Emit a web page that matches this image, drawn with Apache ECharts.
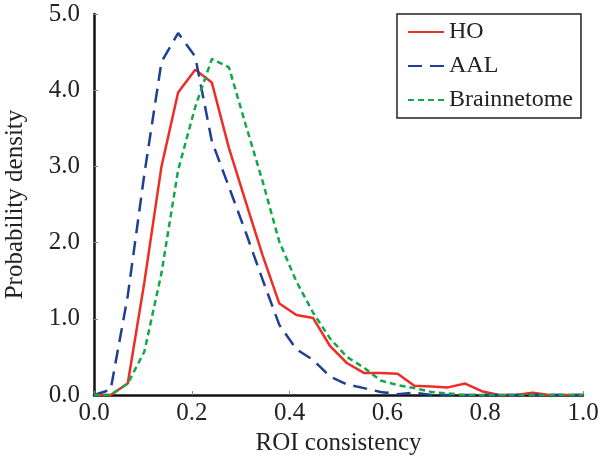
<!DOCTYPE html>
<html>
<head>
<meta charset="utf-8">
<script src="https://cdn.jsdelivr.net/npm/echarts@6/dist/echarts.min.js"></script>
<style>
  html, body { margin: 0; padding: 0; background: #fff; }
  #chart { width: 610px; height: 468px; }
</style>
</head>
<body>
<div id="chart"></div>
<script>
// bin positions on the ROI consistency axis
var xs = [0, 0.034, 0.069, 0.103, 0.138, 0.172, 0.207, 0.241, 0.276, 0.310,
          0.345, 0.379, 0.414, 0.448, 0.483, 0.517, 0.552, 0.586, 0.621, 0.655,
          0.690, 0.724, 0.759, 0.793, 0.828, 0.862, 0.897, 0.931, 0.966, 1.0];

var ho = [0, 0, 0.15, 1.48, 3.0, 3.97, 4.27, 4.1, 3.24, 2.54,
          1.83, 1.2, 1.05, 1.01, 0.64, 0.42, 0.29, 0.29, 0.28, 0.12,
          0.11, 0.1, 0.15, 0.05, 0, 0, 0.03, 0, 0, 0];

var aal = [0, 0.07, 1.3, 2.9, 4.37, 4.75, 4.44, 3.33, 2.73, 2.14,
           1.51, 0.92, 0.6, 0.46, 0.24, 0.14, 0.09, 0.04, 0.01, 0.03,
           0, 0, 0, 0, 0, 0, 0, 0, 0, 0];

var brain = [0, 0, 0.15, 0.57, 1.6, 2.95, 3.78, 4.41, 4.3, 3.55,
             2.8, 2.01, 1.49, 1.08, 0.74, 0.5, 0.36, 0.19, 0.13, 0.09,
             0.04, 0.02, 0, 0, 0, 0, 0, 0, 0, 0];

var font = '"Liberation Serif", "Times New Roman", serif';

function pairs(ys) {
    return xs.map(function (x, i) { return [x, ys[i]]; });
}

function line(name, ys, color, dash) {
    return {
        name: name,
        type: 'line',
        data: pairs(ys),
        symbol: 'none',
        animation: false,
        lineStyle: { color: color, width: 2.5, type: dash },
        itemStyle: { color: color }
    };
}

var chart = echarts.init(document.getElementById('chart'));
chart.setOption({
    backgroundColor: '#fff',
    textStyle: { fontFamily: font },
    grid: { left: 94, right: 27, top: 14, bottom: 73, outerBoundsMode: 'none' },
    legend: {
        orient: 'vertical',
        left: 397,
        top: 14,
        padding: [5, 8, 5, 10],
        itemGap: 8,
        itemWidth: 36,
        itemHeight: 14,
        borderColor: '#222',
        borderWidth: 1.5,
        itemStyle: { opacity: 0 },
        textStyle: { fontFamily: font, fontSize: 24, color: '#222', lineHeight: 26 },
        data: ['HO', 'AAL', 'Brainnetome']
    },
    xAxis: {
        type: 'value',
        min: 0,
        max: 1,
        interval: 0.2,
        name: 'ROI consistency',
        nameLocation: 'middle',
        nameGap: 30,
        nameTextStyle: { fontFamily: font, fontSize: 25, color: '#222' },
        axisLine: { lineStyle: { color: '#111', width: 2.5 } },
        axisTick: { inside: true, length: 4, lineStyle: { color: '#888', width: 1 } },
        axisLabel: {
            margin: 6, fontFamily: font, fontSize: 25, color: '#222',
            formatter: function (v) { return v.toFixed(1); }
        },
        splitLine: { show: false }
    },
    yAxis: {
        type: 'value',
        min: 0,
        max: 5,
        interval: 1,
        name: 'Probability density',
        nameLocation: 'middle',
        nameGap: 66,
        nameTextStyle: { fontFamily: font, fontSize: 25, color: '#222' },
        axisLine: { show: true, lineStyle: { color: '#111', width: 2.5 } },
        axisTick: { show: true, inside: true, length: 4, lineStyle: { color: '#888', width: 1 } },
        axisLabel: {
            margin: 14, fontFamily: font, fontSize: 25, color: '#222',
            formatter: function (v) { return v.toFixed(1); }
        },
        splitLine: { show: false }
    },
    series: [
        line('HO', ho, '#ee2d26', 'solid'),
        line('AAL', aal, '#1f3f94', [14, 8]),
        line('Brainnetome', brain, '#11a84b', [6, 4])
    ]
});
</script>
</body>
</html>
